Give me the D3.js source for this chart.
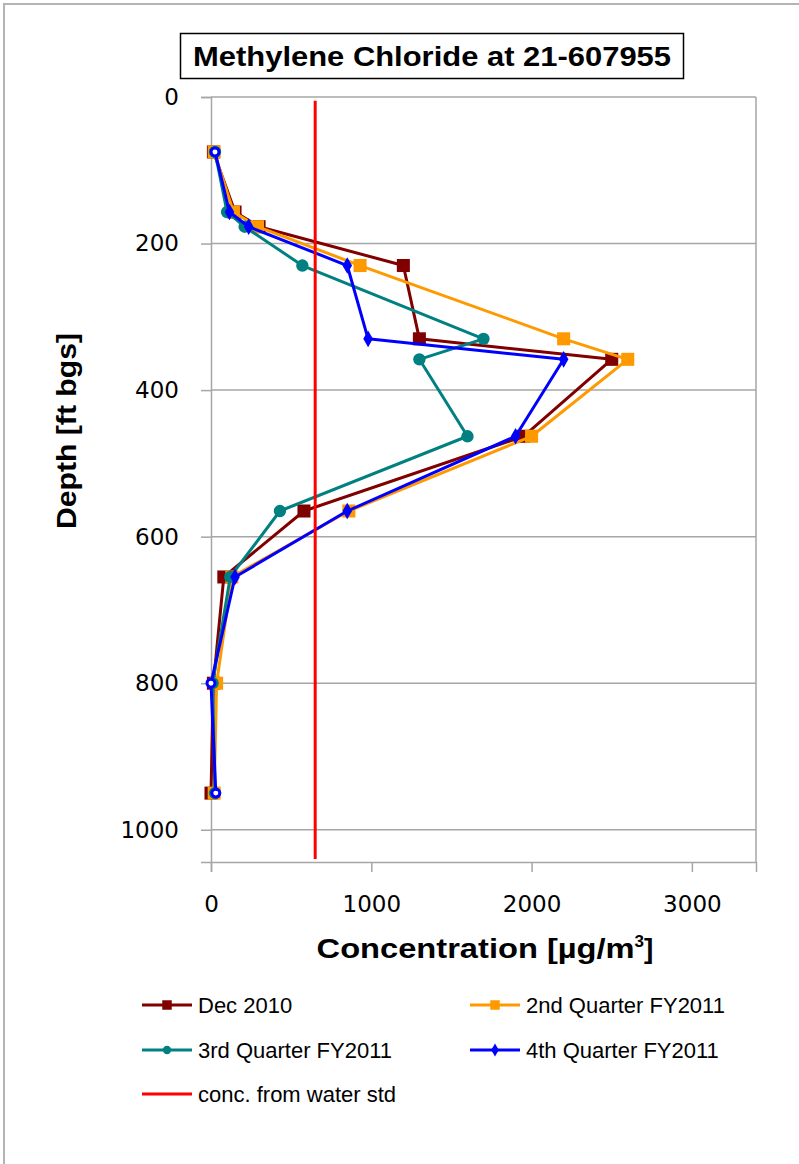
<!DOCTYPE html>
<html>
<head>
<meta charset="utf-8">
<script src="https://cdn.jsdelivr.net/npm/d3@7"></script>
<style>
  body { margin: 0; background: #fff; }
  svg { display: block; }
</style>
</head>
<body>
<script>
// chart data
var depths = [75, 157, 177, 230, 330, 358, 463, 565, 655, 800, 950];
var dec2010 = [15, 150, 300, 1200, 1300, 2500, 1950, 580, 80, 15, 0];
var q2FY2011 = [20, 140, 290, 930, 2200, 2600, 2000, 860, 130, 35, 20];
var q3FY2011 = [25, 100, 210, 570, 1700, 1300, 1600, 430, 120, 10, 25];
var q4FY2011 = [25, 115, 235, 850, 980, 2200, 1900, 850, 150, 0, 30];
var q4NonDetect = [true, false, false, false, false, false, false, false, false, true, true];
var stdConc = [650, 650];
var stdDepth = [5, 1040];
var xTicks = [0, 1000, 2000, 3000];
var yTicks = [0, 200, 400, 600, 800, 1000];
var seriesNames = ["Dec 2010", "2nd Quarter FY2011", "3rd Quarter FY2011", "4th Quarter FY2011", "conc. from water std"];

var svgWidth = 799;
var svgHeight = 1164;

var margin = { top: 97, left: 211, right: 43, bottom: 302 };
var chartWidth = svgWidth - margin.left - margin.right;
var chartHeight = svgHeight - margin.top - margin.bottom;

var labelFont = "'Liberation Sans', Arial, sans-serif";
var tickFont = "'DejaVu Sans', Verdana, sans-serif";

var svg = d3.select("body")
  .append("svg")
  .attr("width", svgWidth)
  .attr("height", svgHeight);

svg.append("rect")
  .attr("width", svgWidth).attr("height", svgHeight)
  .attr("fill", "#fff");

// outer chart frame
svg.append("rect")
  .attr("x", 4).attr("y", 4)
  .attr("width", svgWidth + 10).attr("height", svgHeight + 10)
  .attr("fill", "none")
  .attr("stroke", "#b4b4b4")
  .attr("stroke-width", 2);

var x = d3.scaleLinear().domain([0, 3400]).range([0, chartWidth]);
var y = d3.scaleLinear().domain([0, 1044]).range([0, chartHeight]);

var chartGroup = svg.append("g")
  .attr("transform", `translate(${margin.left}, ${margin.top})`);

// gridlines
chartGroup.append("g")
  .selectAll("line")
  .data(yTicks)
  .enter()
  .append("line")
  .attr("x1", 0).attr("x2", chartWidth)
  .attr("y1", d => y(d)).attr("y2", d => y(d))
  .attr("stroke", "#a6a6a6")
  .attr("stroke-width", 1.5);

// right border
chartGroup.append("line")
  .attr("x1", chartWidth).attr("x2", chartWidth)
  .attr("y1", 0).attr("y2", chartHeight)
  .attr("stroke", "#a6a6a6").attr("stroke-width", 1.5);

// axes
var leftAxis = d3.axisLeft(y).tickValues(yTicks).tickFormat(d3.format("d")).tickSize(10).tickPadding(22);
var bottomAxis = d3.axisBottom(x).tickValues(xTicks).tickFormat(d3.format("d")).tickSize(10).tickPadding(24);

var yAxisG = chartGroup.append("g").call(leftAxis);
var xAxisG = chartGroup.append("g")
  .attr("transform", `translate(0, ${chartHeight})`)
  .call(bottomAxis);

[yAxisG, xAxisG].forEach(function(g) {
  g.select(".domain").attr("stroke", "#a6a6a6").attr("stroke-width", 1.5);
  g.selectAll(".tick line").attr("stroke", "#a6a6a6").attr("stroke-width", 1.5);
  g.selectAll(".tick text")
    .attr("fill", "#000")
    .style("font-family", tickFont)
    .style("font-size", "23px");
});

var series = [
  { name: seriesNames[0], values: dec2010, color: "#800000", marker: "square" },
  { name: seriesNames[1], values: q2FY2011, color: "#ff9900", marker: "square" },
  { name: seriesNames[2], values: q3FY2011, color: "#008080", marker: "circle" },
  { name: seriesNames[3], values: q4FY2011, color: "#0000ff", marker: "diamond", hollow: q4NonDetect }
];

var line = d3.line()
  .x(d => x(d[0]))
  .y(d => y(d[1]));

var symbolFor = {
  square: d3.symbol().type(d3.symbolSquare).size(170),
  circle: d3.symbol().type(d3.symbolCircle).size(120),
  diamond: d3.symbol().type(d3.symbolDiamond).size(80)
};

series.forEach(function(s) {
  var pts = s.values.map((v, i) => [v, depths[i], s.hollow ? s.hollow[i] : false]);
  chartGroup.append("path")
    .datum(pts)
    .attr("d", line)
    .attr("fill", "none")
    .attr("stroke", s.color)
    .attr("stroke-width", 3)
    .attr("stroke-linejoin", "round");
  chartGroup.append("g")
    .selectAll("path")
    .data(pts)
    .enter()
    .append("path")
    .attr("d", d => d[2] ? d3.symbol().type(d3.symbolCircle).size(50)() : symbolFor[s.marker]())
    .attr("transform", d => `translate(${x(d[0])}, ${y(d[1])})`)
    .attr("fill", d => d[2] ? "#fff" : s.color)
    .attr("stroke", d => d[2] ? s.color : "none")
    .attr("stroke-width", 3);
});

// water standard line
chartGroup.append("path")
  .datum(stdConc.map((v, i) => [v, stdDepth[i]]))
  .attr("d", line)
  .attr("fill", "none")
  .attr("stroke", "#ff0000")
  .attr("stroke-width", 3);

// title box
svg.append("rect")
  .attr("x", 180.5).attr("y", 33.5)
  .attr("width", 503).attr("height", 45)
  .attr("fill", "#fff")
  .attr("stroke", "#000")
  .attr("stroke-width", 1.5);
svg.append("text")
  .attr("x", 432).attr("y", 66)
  .attr("text-anchor", "middle")
  .attr("textLength", 478)
  .attr("lengthAdjust", "spacingAndGlyphs")
  .style("font-family", labelFont)
  .style("font-weight", "bold")
  .style("font-size", "28px")
  .text("Methylene Chloride at 21-607955");

// axis titles
svg.append("text")
  .attr("transform", "translate(76, 431) rotate(-90)")
  .attr("text-anchor", "middle")
  .attr("textLength", 196)
  .attr("lengthAdjust", "spacingAndGlyphs")
  .style("font-family", labelFont)
  .style("font-weight", "bold")
  .style("font-size", "28px")
  .text("Depth [ft bgs]");

var xTitle = svg.append("text")
  .attr("x", 485).attr("y", 958)
  .attr("text-anchor", "middle")
  .style("font-family", labelFont)
  .style("font-weight", "bold")
  .style("font-size", "28px");
xTitle.append("tspan").attr("textLength", 318).attr("lengthAdjust", "spacingAndGlyphs").text("Concentration  [µg/m");
xTitle.append("tspan").attr("dy", -11).style("font-size", "17px").text("3");
xTitle.append("tspan").attr("dy", 11).text("]");

// legend
var legendItems = [
  { name: seriesNames[0], color: "#800000", marker: "square", lx: 142, ly: 1005 },
  { name: seriesNames[1], color: "#ff9900", marker: "square", lx: 470, ly: 1005 },
  { name: seriesNames[2], color: "#008080", marker: "circle", lx: 142, ly: 1050 },
  { name: seriesNames[3], color: "#0000ff", marker: "diamond", lx: 470, ly: 1050 },
  { name: seriesNames[4], color: "#ff0000", marker: null, lx: 142, ly: 1094 }
];

var legend = svg.append("g");
legendItems.forEach(function(d) {
  var g = legend.append("g").attr("transform", `translate(${d.lx}, ${d.ly})`);
  g.append("line")
    .attr("x1", 0).attr("x2", 50)
    .attr("stroke", d.color).attr("stroke-width", 3);
  if (d.marker) {
    var size = d.marker === "square" ? 90 : d.marker === "circle" ? 55 : 50;
    g.append("path")
      .attr("d", d3.symbol().type(d.marker === "square" ? d3.symbolSquare : d.marker === "circle" ? d3.symbolCircle : d3.symbolDiamond).size(size))
      .attr("transform", "translate(25, 0)")
      .attr("fill", d.color);
  }
  g.append("text")
    .attr("x", 56).attr("y", 8)
    .style("font-family", labelFont)
    .style("font-size", "22px")
    .attr("fill", "#000")
    .text(d.name);
});
</script>
</body>
</html>
